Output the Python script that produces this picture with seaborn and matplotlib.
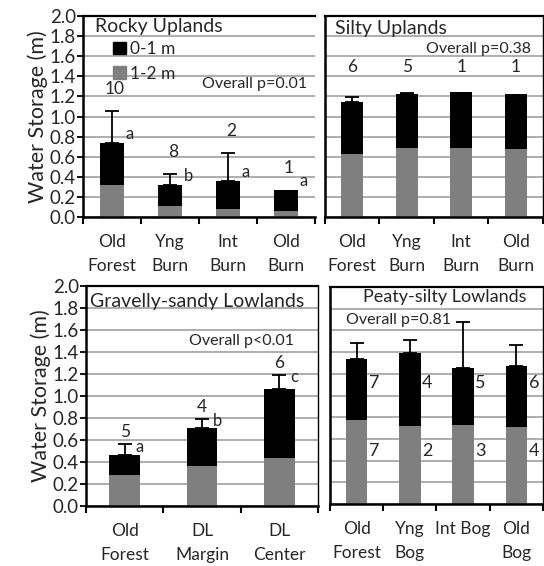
import numpy as np
import pandas as pd
import matplotlib
matplotlib.use("Agg")
import matplotlib.pyplot as plt
from matplotlib.patches import Patch
import seaborn as sns

# DATA
rocky_cats = ["Old\nForest", "Yng\nBurn", "Int\nBurn", "Old\nBurn"]
rocky_total = [0.74, 0.32, 0.36, 0.27]
rocky_deep = [0.32, 0.11, 0.08, 0.06]
rocky_err = [0.31, 0.11, 0.28, 0.0]
rocky_n = ["10", "8", "2", "1"]
rocky_letters = ["a", "b", "a", "a"]

silty_cats = ["Old\nForest", "Yng\nBurn", "Int\nBurn", "Old\nBurn"]
silty_total = [1.14, 1.22, 1.24, 1.22]
silty_deep = [0.63, 0.69, 0.69, 0.675]
silty_err = [0.05, 0.01, 0.0, 0.0]
silty_n = ["6", "5", "1", "1"]

gravel_cats = ["Old\nForest", "DL\nMargin", "DL\nCenter"]
gravel_total = [0.46, 0.71, 1.06]
gravel_deep = [0.28, 0.36, 0.44]
gravel_err = [0.10, 0.08, 0.13]
gravel_n = ["5", "4", "6"]
gravel_letters = ["a", "b", "c"]

peat_cats = ["Old\nForest", "Yng\nBog", "Int Bog", "Old\nBog"]
peat_total = [1.34, 1.39, 1.25, 1.27]
peat_deep = [0.77, 0.72, 0.725, 0.71]
peat_err = [0.14, 0.12, 0.43, 0.20]
peat_n_top = ["7", "4", "5", "6"]
peat_n_deep = ["7", "2", "3", "4"]

BLACK = "#000000"
GRAY = "#7f7f7f"

sns.set_style("white")
plt.rcParams['font.family'] = ['Lato', 'DejaVu Sans']

fig = plt.figure(figsize=(5.44, 5.66), dpi=100)


def panel(rect, cats, total, deep, err, show_y, right_spine=True):
    ax = fig.add_axes(rect)
    df = pd.DataFrame({"cat": cats, "total": total, "deep": deep})
    sns.barplot(data=df, x="cat", y="total", color=BLACK, saturation=1,
                width=0.4, errorbar=None, linewidth=0, ax=ax)
    sns.barplot(data=df, x="cat", y="deep", color=GRAY, saturation=1,
                width=0.4, errorbar=None, linewidth=0, ax=ax)
    pos = np.arange(len(cats))
    e = np.array(err)
    keep = e > 0
    ax.errorbar(pos[keep], np.array(total)[keep],
                yerr=[np.zeros(keep.sum()), e[keep]], fmt="none",
                ecolor=BLACK, elinewidth=1.3, capsize=5, capthick=1.3)
    ax.set_xlim(-0.5, len(cats) - 0.5)
    ax.set_ylim(0, 2.0)
    ax.set_yticks(np.arange(0, 2.01, 0.2))
    ax.set_axisbelow(True)
    ax.yaxis.grid(True, color="#adadad", lw=1.4)
    ax.set_xlabel("")
    ax.set_ylabel("")
    ax.set_xticks(pos)
    ax.set_xticklabels(cats, fontsize=12.5, linespacing=1.6)
    ax.set_xticks(np.arange(-0.5, len(cats)), minor=True)
    ax.tick_params(axis="x", which="major", length=0, pad=12.5)
    ax.tick_params(axis="x", which="minor", length=5, width=1.5,
                   direction="out", color=BLACK, bottom=True)
    if show_y:
        ax.set_yticklabels([f"{v:.1f}" for v in np.arange(0, 2.01, 0.2)],
                           fontsize=13.5)
        ax.tick_params(axis="y", length=4, width=1.3, direction="out",
                       color=BLACK, left=True, pad=1)
        ax.set_ylabel("Water Storage (m)", fontsize=15.5, labelpad=1)
    else:
        ax.set_yticklabels([])
        ax.tick_params(axis="y", length=0)
    for side in ["left", "bottom"]:
        ax.spines[side].set_linewidth(1.8)
        ax.spines[side].set_color(BLACK)
    ax.spines["top"].set_linewidth(1.6)
    ax.spines["top"].set_color(BLACK)
    ax.spines["right"].set_visible(right_spine)
    ax.spines["right"].set_linewidth(1.0)
    ax.spines["right"].set_color(BLACK)
    return ax


# Rocky Uplands
ax1 = panel([0.1526, 0.6166, 0.4265, 0.3551], rocky_cats, rocky_total,
            rocky_deep, rocky_err, True, right_spine=False)
ax1.text(-0.3, 1.90, "Rocky Uplands", fontsize=14, va="center", ha="left")
ax1.text(3.36, 1.32, "Overall p=0.01", fontsize=11.5, va="center", ha="right")
for i, (t, e, n, l) in enumerate(zip(rocky_total, rocky_err, rocky_n,
                                     rocky_letters)):
    ax1.text(i + 0.05, t + e + 0.22, n, fontsize=12.5, ha="center",
             va="center")
    ax1.text(i + 0.24, t + 0.09, l, fontsize=12, ha="left", va="center")
ax1.legend(handles=[Patch(color=BLACK), Patch(color=GRAY)],
           labels=["0-1 m", "1-2 m"], loc="upper left",
           bbox_to_anchor=(0.1, 0.91), frameon=False, fontsize=12.5,
           handlelength=0.75, handleheight=0.75, handletextpad=0.2,
           labelspacing=0.5, borderaxespad=0)

# Silty Uplands
ax2 = panel([0.5974, 0.6166, 0.4007, 0.3551], silty_cats, silty_total,
            silty_deep, silty_err, False)
ax2.text(-0.32, 1.88, "Silty Uplands", fontsize=14, va="center", ha="left")
ax2.text(3.28, 1.67, "Overall p=0.38", fontsize=11.5, va="center", ha="right")
for i, n in enumerate(silty_n):
    ax2.text(i, 1.49, n, fontsize=12.5, ha="center", va="center")

# Gravelly-sandy Lowlands
ax3 = panel([0.1581, 0.106, 0.4265, 0.3887], gravel_cats, gravel_total,
            gravel_deep, gravel_err, True)
ax3.text(-0.45, 1.86, "Gravelly-sandy Lowlands", fontsize=14, va="center",
         ha="left")
ax3.text(2.19, 1.50, "Overall p<0.01", fontsize=11.5, va="center", ha="right")
for i, (t, e, n, l) in enumerate(zip(gravel_total, gravel_err, gravel_n,
                                     gravel_letters)):
    ax3.text(i, t + e + 0.11, n, fontsize=12.5, ha="center", va="center")
    ax3.text(i + 0.14, t + e - 0.02, l, fontsize=12, ha="left",
             va="center")

# Peaty-silty Lowlands
ax4 = panel([0.6066, 0.1095, 0.3915, 0.3834], peat_cats, peat_total,
            peat_deep, peat_err, False)
ax4.text(1.66, 1.91, "Peaty-silty Lowlands", fontsize=13, va="center",
         ha="center")
ax4.text(-0.19, 1.70, "Overall p=0.81", fontsize=11.5, va="center", ha="left")
for i, (a, b) in enumerate(zip(peat_n_top, peat_n_deep)):
    ax4.text(i + 0.23, 1.12, a, fontsize=13, ha="left", va="center")
    ax4.text(i + 0.23, 0.49, b, fontsize=13, ha="left", va="center")

fig.savefig("out.png", dpi=100)
